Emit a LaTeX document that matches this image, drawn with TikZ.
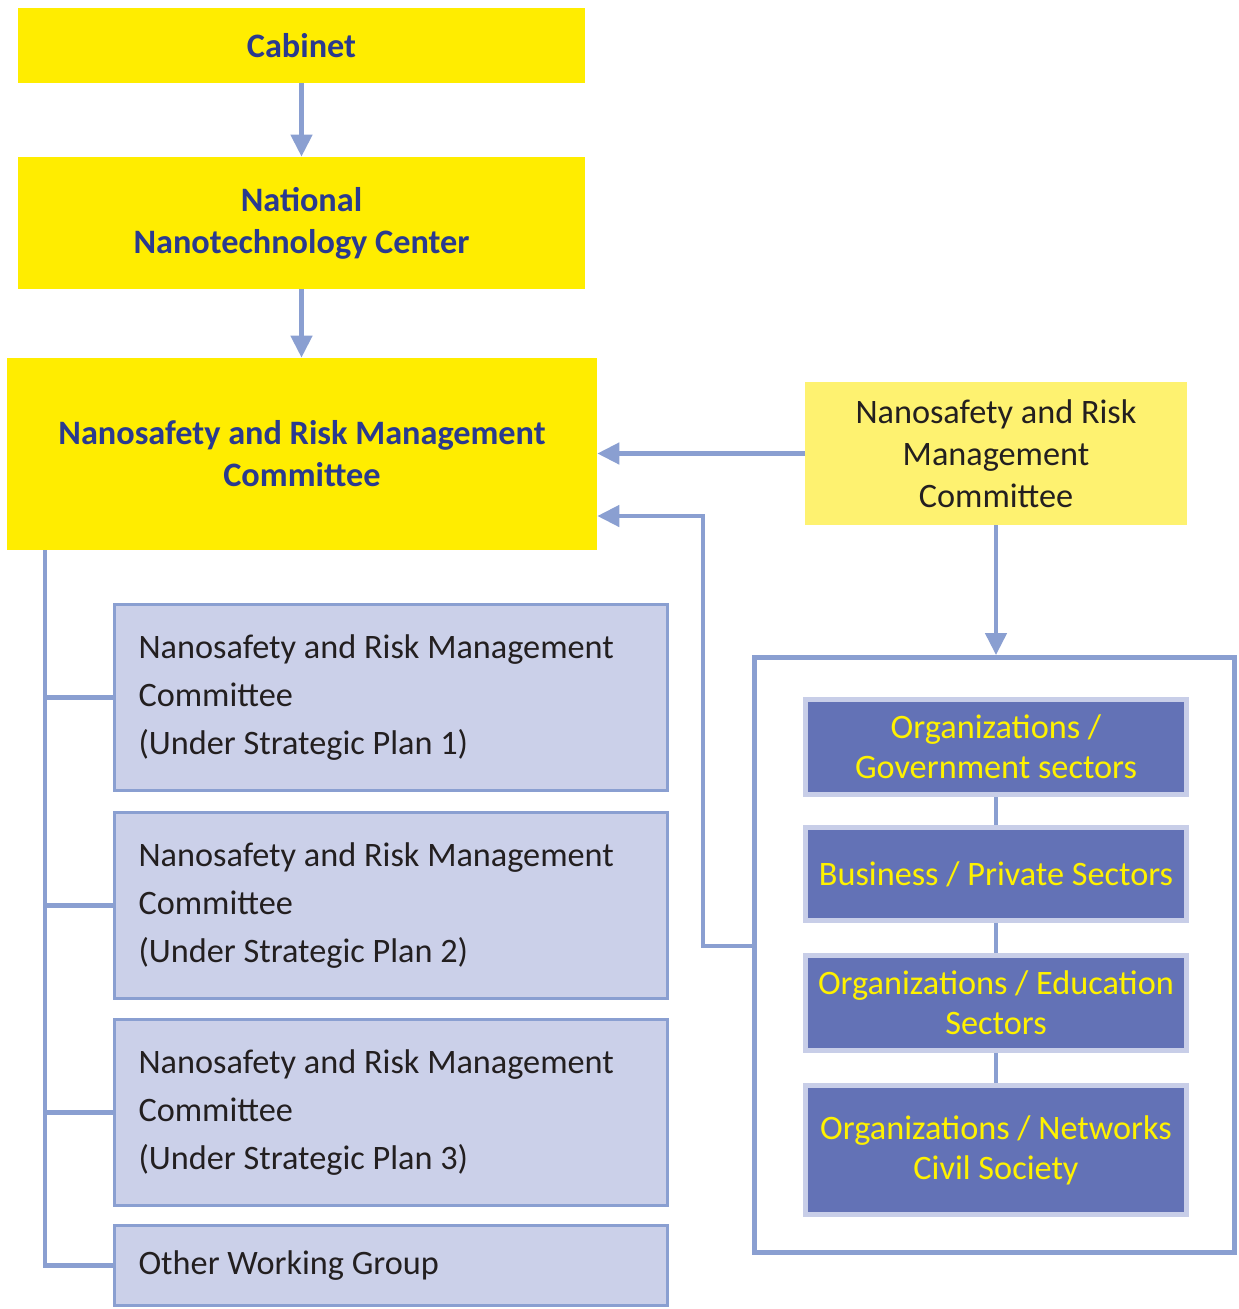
\documentclass[tikz,border=0pt]{standalone}
\usepackage{fontspec}
\setmainfont{Carlito}
\usepackage{xcolor}
\usetikzlibrary{arrows.meta, positioning, calc}

\definecolor{boardyellow}{HTML}{FFED00}
\definecolor{paleyellow}{HTML}{FEF270}
\definecolor{linkblue}{HTML}{8A9FD1}
\definecolor{planfill}{HTML}{CBD0E9}
\definecolor{sectorfill}{HTML}{6372B6}
\definecolor{sectorrim}{HTML}{C8CEE8}
\definecolor{titleblue}{HTML}{2A3A8F}
\definecolor{sectortext}{HTML}{FFF200}
\definecolor{bodytext}{HTML}{231F20}

\begin{document}
\begin{tikzpicture}[x=0.02cm, y=-0.02cm,
    >={Triangle[width=0.42cm, length=0.44cm]},
    board/.style={fill=boardyellow, text=titleblue, align=center, inner sep=0pt,
      font=\bfseries\fontsize{19.5}{24}\selectfont},
    advisory/.style={fill=paleyellow, text=bodytext, align=center, inner sep=0pt,
      font=\fontsize{19.5}{24}\selectfont},
    planbox/.style={draw=linkblue, line width=0.06cm, fill=planfill, text=bodytext,
      minimum width=11.06cm, text width=10.1cm, inner xsep=0.48cm, inner ysep=0pt, align=flush left,
      font=\fontsize{19.5}{27.3}\selectfont},
    sectorbox/.style={draw=sectorrim, line width=0.1cm, fill=sectorfill, text=sectortext,
      minimum width=7.62cm, inner sep=0pt, align=center,
      font=\fontsize{19.5}{22.8}\selectfont},
    link/.style={draw=linkblue, line width=0.09cm},
    arrow/.style={link, ->}]

  \useasboundingbox (0,0) rectangle (1239,1309);

  \node[board, minimum width=11.34cm, minimum height=1.5cm] (cabinet) at (301.5,45.5) {Cabinet};
  \node[board, minimum width=11.34cm, minimum height=2.64cm] (nnc) at (301.5,223) {National\\Nanotechnology Center};
  \node[board, minimum width=11.8cm, minimum height=3.84cm] (nsrmc) at (302,454) {Nanosafety and Risk Management\\Committee};
  \node[advisory, minimum width=7.64cm, minimum height=2.86cm] (adv) at (996,453.5) {Nanosafety and Risk\\Management\\Committee};

  \node[draw=linkblue, line width=0.1cm, fill=white, minimum width=9.6cm, minimum height=11.9cm] (frame) at (994.5,955) {};

  \node[sectorbox, minimum height=1.9cm] (gov) at (996,747) {Organizations /\\Government sectors};
  \node[sectorbox, minimum height=1.86cm] (biz) at (996,874) {Business / Private Sectors};
  \node[sectorbox, minimum height=1.9cm] (edu) at (996,1003) {Organizations / Education\\Sectors};
  \node[sectorbox, minimum height=2.58cm] (civil) at (996,1150) {Organizations / Networks\\Civil Society};

  \node[planbox, minimum height=3.72cm] (plan1) at (391,697.5) {Nanosafety and Risk Management\\Committee\\(Under Strategic Plan 1)};
  \node[planbox, minimum height=3.72cm] (plan2) at (391,905.5) {Nanosafety and Risk Management\\Committee\\(Under Strategic Plan 2)};
  \node[planbox, minimum height=3.72cm] (plan3) at (391,1112.5) {Nanosafety and Risk Management\\Committee\\(Under Strategic Plan 3)};
  \node[planbox, minimum height=1.6cm] (other) at (391,1265.5) {Other Working Group};

  \coordinate (trunk) at (45,550);
  \coordinate (bend) at (703,516);

  \draw[arrow] (cabinet.south) -- (nnc.north);
  \draw[arrow] (nnc.south) -- (nnc.south |- nsrmc.north);
  \draw[arrow] (adv.west) -- (adv.west -| nsrmc.east);
  \draw[arrow] (adv.south) -- (adv.south |- frame.north);
  \draw[arrow] ([yshift=0.18cm]frame.west) -| (bend) -- (bend -| nsrmc.east);

  \draw[link] (gov.south) -- (biz.north);
  \draw[link] (biz.south) -- (edu.north);
  \draw[link] (edu.south) -- (civil.north);

  \draw[link] (trunk) |- (other.west);
  \draw[link] (plan1.west) -- (plan1.west -| trunk);
  \draw[link] (plan2.west) -- (plan2.west -| trunk);
  \draw[link] (plan3.west) -- (plan3.west -| trunk);

\end{tikzpicture}
\end{document}
